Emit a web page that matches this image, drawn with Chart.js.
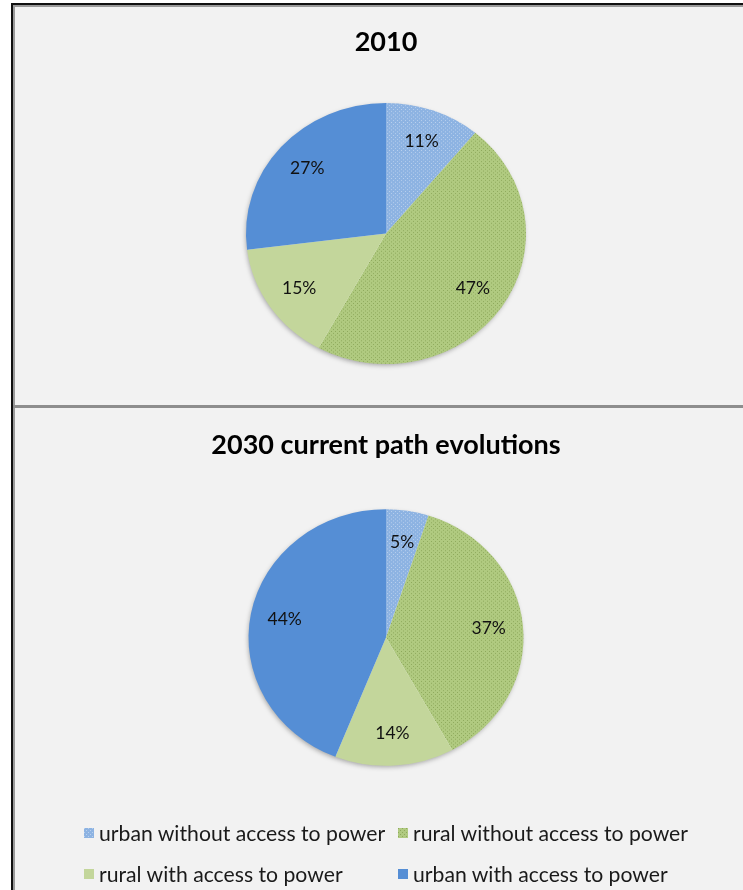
<!DOCTYPE html>
<html>
<head>
<meta charset="utf-8">
<script src="https://cdn.jsdelivr.net/npm/chart.js@4.4.1/dist/chart.umd.min.js"></script>
<style>
  html, body { margin: 0; padding: 0; overflow: hidden; background: #fff; font-family: Lato, sans-serif; }
  #frame {
    position: absolute; left: 11px; top: 3px; width: 760px; height: 920px;
    background: #f2f2f2;
    border-left: 2px solid #111; border-top: 2px solid #111;
    box-shadow: inset 2px 2px 0 #9a9a9a;
  }
  #divider { position: absolute; left: 13px; top: 405px; width: 740px; height: 3px; background: #8e8e8e; }
  .panel { position: absolute; left: 29px; width: 714px; }
  #panelTop { top: 0; height: 405px; }
  #panelBottom { top: 408px; height: 482px; }
  .item { position: absolute; display: flex; align-items: center; font-size: 21.2px; color: #1a1a1a; white-space: nowrap; }
  .item canvas { width: 10px; height: 10px; margin-right: 5px; }
</style>
</head>
<body>
<div id="frame"></div>
<div id="divider"></div>
<div class="panel" id="panelTop"><canvas id="chart2010"></canvas></div>
<div class="panel" id="panelBottom"><canvas id="chart2030"></canvas></div>
<div id="legend"></div>
<script>
const categories = [
  "urban without access to power",
  "rural without access to power",
  "rural with access to power",
  "urban with access to power"
];
const values2010 = [11, 47, 15, 27];
const values2030 = [5, 37, 14, 44];
const titles = ["2010", "2030 current path evolutions"];

// pies are drawn slightly flattened, like the office-style originals
const yScale = 0.933;

// small dotted tiles for the "without access" slices
function dotted(base, dot) {
  const c = document.createElement("canvas");
  c.width = 4; c.height = 4;
  const g = c.getContext("2d");
  g.fillStyle = base; g.fillRect(0, 0, 4, 4);
  g.fillStyle = dot;
  g.fillRect(0, 0, 1, 1);
  g.fillRect(2, 2, 1, 1);
  return g.createPattern(c, "repeat");
}

const fills = [
  dotted("#8db3e2", "#b9d0ee"),
  dotted("#b0ca80", "#8ea95c"),
  "#c3d69b",
  "#558ed5"
];

const squashPlugin = {
  id: "squash",
  beforeDatasetsDraw(chart) {
    const arc = chart.getDatasetMeta(0).data[0];
    const ctx = chart.ctx;
    ctx.save();
    ctx.translate(arc.x, arc.y);
    ctx.scale(1, yScale);
    ctx.translate(-arc.x, -arc.y);
    // soft drop shadow under the whole pie
    ctx.save();
    ctx.shadowColor = "rgba(0,0,0,0.35)";
    ctx.shadowBlur = 5;
    ctx.shadowOffsetX = -1;
    ctx.shadowOffsetY = 2;
    ctx.beginPath();
    ctx.arc(arc.x, arc.y, arc.outerRadius - 1, 0, Math.PI * 2);
    ctx.fillStyle = "#f2f2f2";
    ctx.fill();
    ctx.restore();
  },
  afterDatasetsDraw(chart) {
    const ctx = chart.ctx;
    ctx.restore();
    const meta = chart.getDatasetMeta(0);
    const data = chart.data.datasets[0].data;
    ctx.save();
    ctx.font = "17.5px Lato";
    ctx.fillStyle = "#111";
    ctx.textAlign = "center";
    ctx.textBaseline = "middle";
    meta.data.forEach((arc, i) => {
      const mid = (arc.startAngle + arc.endAngle) / 2;
      const r = arc.outerRadius * 0.75;
      const lx = arc.x + Math.cos(mid) * r;
      const ly = arc.y + Math.sin(mid) * r * yScale;
      ctx.fillText(data[i] + "%", lx, ly);
    });
    ctx.restore();
  }
};

function makePie(id, title, values, radius, titlePad, bottomPad) {
  return new Chart(document.getElementById(id), {
    type: "pie",
    data: {
      labels: categories,
      datasets: [{ data: values, backgroundColor: fills, borderWidth: 0 }]
    },
    options: {
      responsive: true,
      maintainAspectRatio: false,
      animation: false,
      radius: radius,
      layout: { padding: { bottom: bottomPad } },
      plugins: {
        legend: { display: false },
        tooltip: { enabled: false },
        title: {
          display: true,
          text: title,
          color: "#000",
          font: { family: "Lato", size: 27, weight: "bold" },
          padding: titlePad
        }
      }
    },
    plugins: [squashPlugin]
  });
}

makePie("chart2010", titles[0], values2010, 140, { top: 26.3, bottom: 34.8 }, 31.5);
makePie("chart2030", titles[1], values2030, 137.5, { top: 20.8, bottom: 38.8 }, 115);

// legend: two columns, two rows
const legendCols = [84, 398];
const legendRows = [833, 874];
const legend = document.getElementById("legend");
categories.forEach((name, i) => {
  const item = document.createElement("div");
  item.className = "item";
  item.style.left = legendCols[i % 2] + "px";
  item.style.top = (legendRows[Math.floor(i / 2)] - 13) + "px";
  item.style.height = "26px";
  const sw = document.createElement("canvas");
  sw.width = 10; sw.height = 10;
  const g = sw.getContext("2d");
  g.fillStyle = fills[i];
  g.fillRect(0, 0, 10, 10);
  item.appendChild(sw);
  const txt = document.createElement("span");
  txt.innerText = name;
  item.appendChild(txt);
  legend.appendChild(item);
});
</script>
</body>
</html>
